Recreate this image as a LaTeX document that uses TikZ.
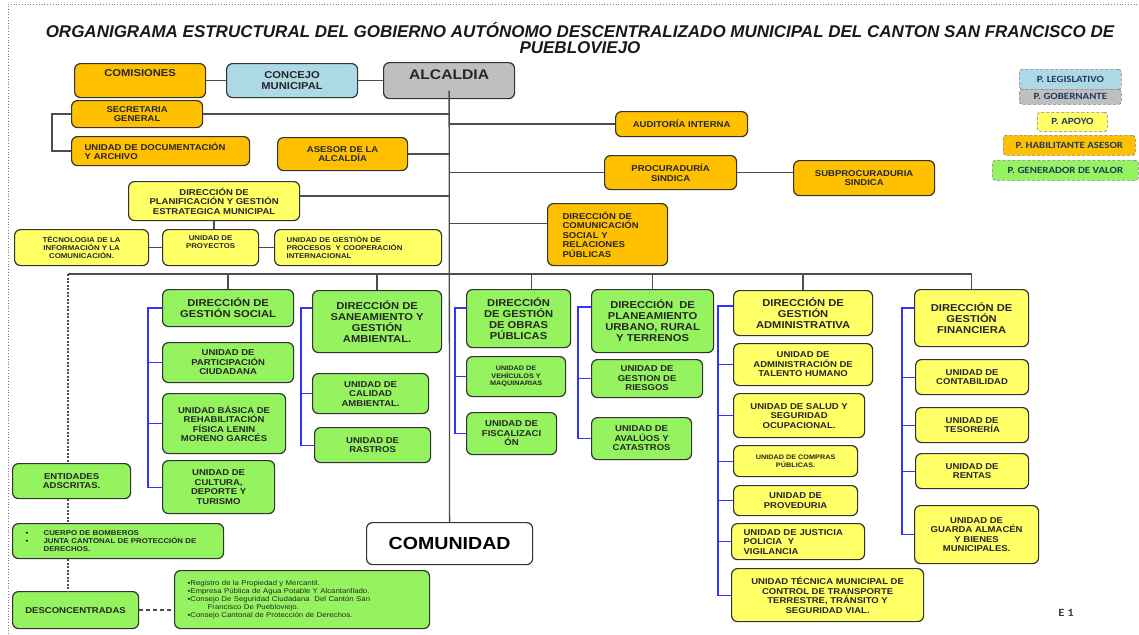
\documentclass[tikz,border=0pt]{standalone}
\usepackage{fontspec}
\setmainfont{Liberation Sans}[FakeStretch=1.12]
\newfontfamily\titlefont{Liberation Sans}
\newfontfamily\legendfont{Carlito}[FakeStretch=1.15]
\definecolor{naranja}{HTML}{FFC000}
\definecolor{amarillo}{HTML}{FFFF66}
\definecolor{verde}{HTML}{95F35F}
\definecolor{celeste}{HTML}{ADD8E6}
\definecolor{gris}{HTML}{BFBFBF}
\definecolor{azul}{HTML}{3333FF}
\definecolor{linea}{HTML}{4D4D4D}
\definecolor{tinta}{HTML}{1F3A60}
\tikzset{
	caja/.style={draw=black!80, line width=1.2pt, rounded corners=6pt, align=center, inner sep=2pt, anchor=north west, text=black!85, font=\bfseries\fontsize{8.5}{9.5}\selectfont},
	tam/.style args={#1x#2}{minimum width=#1pt, minimum height=#2pt},
	asesor/.style={caja, fill=naranja},
	apoyo/.style={caja, fill=amarillo},
	valor/.style={caja, fill=verde},
	direc/.style={font=\bfseries\fontsize{10}{11}\selectfont},
	chico/.style={font=\bfseries\fontsize{7}{8}\selectfont},
	mini/.style={font=\bfseries\fontsize{6.5}{7.5}\selectfont},
	izq/.style={align=left, inner xsep=#1pt},
	lift/.style={text depth=#1pt},
	wire/.style={draw=linea, line width=1.3pt},
	punteado/.style={wire, dash pattern=on 2pt off 1.5pt},
	bracket/.style={draw=azul, line width=1.2pt},
	ley/.style={draw=gray, densely dashed, line width=0.7pt, rounded corners=3pt, anchor=north west, inner sep=1pt, text=tinta, font=\legendfont\bfseries\fontsize{9.5}{10}\selectfont}
}

\begin{document}
\begin{tikzpicture}[x=1pt, y=-1pt]
	% Paths, nodes and wires:
	\useasboundingbox (0,0) rectangle (1139,634);
	\draw[gray, dotted, line width=0.8pt] (8,634) -- (8,4) -- (1139,4);
	\node[font=\titlefont\bfseries\itshape\fontsize{17}{16}\selectfont, align=center, text=black!90] (titulo) at (580,38) {ORGANIGRAMA ESTRUCTURAL DEL GOBIERNO AUTÓNOMO DESCENTRALIZADO MUNICIPAL DEL CANTON SAN FRANCISCO DE\\PUEBLOVIEJO};
	\node[ley, fill=celeste, tam=102x20] (legislativo) at (1019,69) {P. LEGISLATIVO};
	\node[ley, fill=gris, tam=102x15] (gobernante) at (1019,89) {P. GOBERNANTE};
	\node[ley, fill=amarillo, tam=70x19] (leyapoyo) at (1037,112) {P. APOYO};
	\node[ley, fill=naranja, tam=132x20] (habilitante) at (1003,135) {P. HABILITANTE ASESOR};
	\node[ley, fill=verde, tam=146x20] (generador) at (992,160) {P. GENERADOR DE VALOR};
	\node[asesor, tam=131x34, direc, lift=15] (comisiones) at (74,63) {COMISIONES};
	\node[caja, fill=celeste, tam=131x34, direc] (concejo) at (226,63) {CONCEJO\\MUNICIPAL};
	\node[caja, fill=gris, tam=131x36, font=\bfseries\fontsize{14}{15}\selectfont, lift=12] (alcaldia) at (383,62) {ALCALDIA};
	\node[asesor, tam=131x27] (secretaria) at (71,100) {SECRETARIA\\GENERAL};
	\node[asesor, tam=178x29, izq=13, text width=152pt] (documentacion) at (71,136) {UNIDAD DE DOCUMENTACIÓN\\Y ARCHIVO};
	\node[asesor, tam=130x33] (asesoria) at (277,137) {ASESOR DE LA\\ALCALDÍA};
	\node[asesor, tam=132x25] (auditoria) at (615,111) {AUDITORÍA INTERNA};
	\node[asesor, tam=132x34] (procuraduria) at (604,155) {PROCURADURÍA\\SINDICA};
	\node[asesor, tam=141x35] (subprocuraduria) at (793,160) {SUBPROCURADURIA\\SINDICA};
	\node[asesor, tam=120x62, izq=15, text width=90pt] (comunicacion) at (547,203) {DIRECCIÓN DE\\COMUNICACIÓN\\SOCIAL Y\\RELACIONES\\PÚBLICAS};
	\node[apoyo, tam=171x39] (planificacion) at (128,181) {DIRECCIÓN DE\\PLANIFICACIÓN Y GESTIÓN\\ESTRATEGICA MUNICIPAL};
	\node[apoyo, tam=134x36, chico] (tecnologia) at (14,229) {TÉCNOLOGIA DE LA\\INFORMACIÓN Y LA\\COMUNICACIÓN.};
	\node[apoyo, tam=96x36, chico, lift=11] (proyectos) at (162,229) {UNIDAD DE\\PROYECTOS};
	\node[apoyo, tam=167x36, chico, izq=12, text width=143pt] (procesos) at (274,229) {UNIDAD DE GESTIÓN DE\\PROCESOS~ Y COOPERACIÓN\\INTERNACIONAL};
	\node[valor, tam=131x37, direc] (dsocial) at (162,289) {DIRECCIÓN DE\\GESTIÓN SOCIAL};
	\node[valor, tam=131x40] (participacion) at (162,342) {UNIDAD DE\\PARTICIPACIÓN\\CIUDADANA};
	\node[valor, tam=123x60] (rehabilitacion) at (162,393) {UNIDAD BÁSICA DE\\REHABILITACIÓN\\FÍSICA LENIN\\MORENO GARCÉS};
	\node[valor, tam=112x53] (cultura) at (162,460) {UNIDAD DE\\CULTURA,\\DEPORTE Y\\TURISMO};
	\node[valor, tam=129x62, direc] (dsaneamiento) at (312,290) {DIRECCIÓN DE\\SANEAMIENTO Y\\GESTIÓN\\AMBIENTAL.};
	\node[valor, tam=116x40] (calidad) at (312,373) {UNIDAD DE\\CALIDAD\\AMBIENTAL.};
	\node[valor, tam=116x35] (rastros) at (314,427) {UNIDAD DE\\RASTROS};
	\node[valor, tam=104x58, direc] (dobras) at (466,289) {DIRECCIÓN\\DE GESTIÓN\\DE OBRAS\\PÚBLICAS};
	\node[valor, tam=99x40, mini] (vehiculos) at (466,356) {UNIDAD DE\\VEHÍCULOS Y\\MAQUINARIAS};
	\node[valor, tam=90x42] (fiscalizacion) at (466,412) {UNIDAD DE\\FISCALIZACI\\ÓN};
	\node[valor, tam=122x63, direc] (dplaneamiento) at (591,289) {DIRECCIÓN~ DE\\PLANEAMIENTO\\URBANO, RURAL\\Y TERRENOS};
	\node[valor, tam=111x38] (riesgos) at (591,359) {UNIDAD DE\\GESTION DE\\RIESGOS};
	\node[valor, tam=100x42] (avaluos) at (591,417) {UNIDAD DE\\AVALÚOS Y\\CATASTROS};
	\node[apoyo, tam=139x45, direc] (dadministrativa) at (733,290) {DIRECCIÓN DE\\GESTIÓN\\ADMINISTRATIVA};
	\node[apoyo, tam=139x42] (talento) at (733,343) {UNIDAD DE\\ADMINISTRACIÓN DE\\TALENTO HUMANO};
	\node[apoyo, tam=131x44] (salud) at (733,393) {UNIDAD DE SALUD Y\\SEGURIDAD\\OCUPACIONAL.};
	\node[apoyo, tam=124x31, mini] (compras) at (733,445) {UNIDAD DE COMPRAS\\PÚBLICAS.};
	\node[apoyo, tam=124x30] (proveduria) at (733,485) {UNIDAD DE\\PROVEDURIA};
	\node[apoyo, tam=133x36, izq=12, text width=109pt] (justicia) at (731,523) {UNIDAD DE JUSTICIA\\POLICIA~ Y\\VIGILANCIA};
	\node[apoyo, tam=192x53] (transito) at (731,568) {UNIDAD TÉCNICA MUNICIPAL DE\\CONTROL DE TRANSPORTE\\TERRESTRE, TRÁNSITO Y\\SEGURIDAD VIAL.};
	\node[apoyo, tam=114x57, direc] (dfinanciera) at (914,289) {DIRECCIÓN DE\\GESTIÓN\\FINANCIERA};
	\node[apoyo, tam=113x35] (contabilidad) at (915,359) {UNIDAD DE\\CONTABILIDAD};
	\node[apoyo, tam=113x35] (tesoreria) at (915,407) {UNIDAD DE\\TESORERÍA};
	\node[apoyo, tam=113x35] (rentas) at (915,453) {UNIDAD DE\\RENTAS};
	\node[apoyo, tam=124x58] (guarda) at (914,505) {UNIDAD DE\\GUARDA ALMACÉN\\Y BIENES\\MUNICIPALES.};
	\node[valor, tam=118x35] (entidades) at (12,463) {ENTIDADES\\ADSCRITAS.};
	\node[valor, tam=211x35, chico, izq=13, text width=185pt] (adscritas) at (12,523) {\makebox[18pt][l]{\textbullet}CUERPO DE BOMBEROS\\\makebox[18pt][l]{\textbullet}JUNTA CANTONAL DE PROTECCIÓN DE\\\hspace*{18pt}DERECHOS.};
	\node[valor, tam=126x37] (desconcentradas) at (12,591) {DESCONCENTRADAS};
	\node[valor, tam=255x58, izq=13, text width=229pt, font=\fontsize{7}{8}\selectfont] (desconclist) at (174,570) {▪Registro de la Propiedad y Mercantil.\\▪Empresa Pública de Agua Potable Y Alcantarillado.\\▪Consejo De Seguridad Ciudadana~ Del Cantón San\\\hspace*{20pt}Francisco De Puebloviejo.\\▪Consejo Cantonal de Protección de Derechos.};
	\node[caja, fill=white, tam=166x42, font=\bfseries\fontsize{17.5}{19}\selectfont, text=black] (comunidad) at (366,522) {COMUNIDAD};
	\node[font=\legendfont\bfseries\fontsize{11}{12}\selectfont, text=black!75] (pagina) at (1066,613) {E 1};
	\draw[wire] (comisiones) -- (concejo);
	\draw[wire] (concejo) -- (alcaldia);
	\draw[wire] ([yshift=-10pt]alcaldia.center) -- (comunidad.north);
	\draw[wire] (secretaria.east) -- (secretaria.east -| alcaldia.center);
	\draw[wire] (secretaria.west) -- ++(-19,0) |- (documentacion.west);
	\draw[wire] (asesoria.east) -- (asesoria.east -| alcaldia.center);
	\draw[wire] ([yshift=5pt]planificacion.east) -- ([yshift=5pt]planificacion.east -| alcaldia.center);
	\draw[wire] (planificacion.south) -- (planificacion.south |- proyectos.north);
	\draw[wire] (tecnologia) -- (proyectos);
	\draw[wire] (proyectos) -- (procesos);
	\draw[wire] (auditoria.west -| alcaldia.center) -- (auditoria.west);
	\draw[wire] (procuraduria.west -| alcaldia.center) -- (procuraduria.west);
	\draw[wire] (procuraduria.east) -- (procuraduria.east -| subprocuraduria.west);
	\draw[wire] ([yshift=11pt]comunicacion.west -| alcaldia.center) -- ([yshift=11pt]comunicacion.west);
	\coordinate (busL) at (68,274);
	\draw[wire] (busL) -- (busL -| dfinanciera.north) -- (dfinanciera.north);
	\foreach \d in {dsocial,dsaneamiento,dplaneamiento,dadministrativa}
		\draw[wire] (\d.north |- busL) -- (\d.north);
	\draw[wire] ([xshift=13pt]dobras.north |- busL) -- ([xshift=13pt]dobras.north);
	\draw[punteado] (busL) -- (busL |- entidades.north);
	\draw[punteado] (busL |- entidades.south) -- (busL |- adscritas.north);
	\draw[punteado] (busL |- adscritas.south) -- (busL |- desconcentradas.north);
	\draw[wire, dash pattern=on 4pt off 3pt] (desconcentradas.east) -- (desconcentradas.east -| desconclist.west);
	\draw[bracket] ([yshift=-19pt]dsocial.north west) -- ++(-14,0) coordinate (bs) |- (cultura.west);
	\foreach \u in {participacion,rehabilitacion}
		\draw[bracket] (\u.west) -- (\u.west -| bs);
	\draw[bracket] ([yshift=-18pt]dsaneamiento.north west) -- ++(-11,0) coordinate (bn) |- (rastros.west);
	\draw[bracket] (calidad.west) -- (calidad.west -| bn);
	\draw[bracket] ([yshift=-19pt]dobras.north west) -- ++(-11,0) coordinate (bo) |- (fiscalizacion.west);
	\draw[bracket] (vehiculos.west) -- (vehiculos.west -| bo);
	\draw[bracket] ([yshift=-18pt]dplaneamiento.north west) -- ++(-13,0) coordinate (bp) |- (avaluos.west);
	\draw[bracket] (riesgos.west) -- (riesgos.west -| bp);
	\draw[bracket] ([yshift=-16pt]dadministrativa.north west) -- ++(-15,0) coordinate (ba) |- (transito.west);
	\foreach \u in {talento,salud,compras,proveduria,justicia}
		\draw[bracket] (\u.west) -- (\u.west -| ba);
	\draw[bracket] ([yshift=-19pt]dfinanciera.north west) -- ++(-12,0) coordinate (bf) |- (guarda.west);
	\foreach \u in {contabilidad,tesoreria,rentas}
		\draw[bracket] (\u.west) -- (\u.west -| bf);
\end{tikzpicture}
\end{document}
